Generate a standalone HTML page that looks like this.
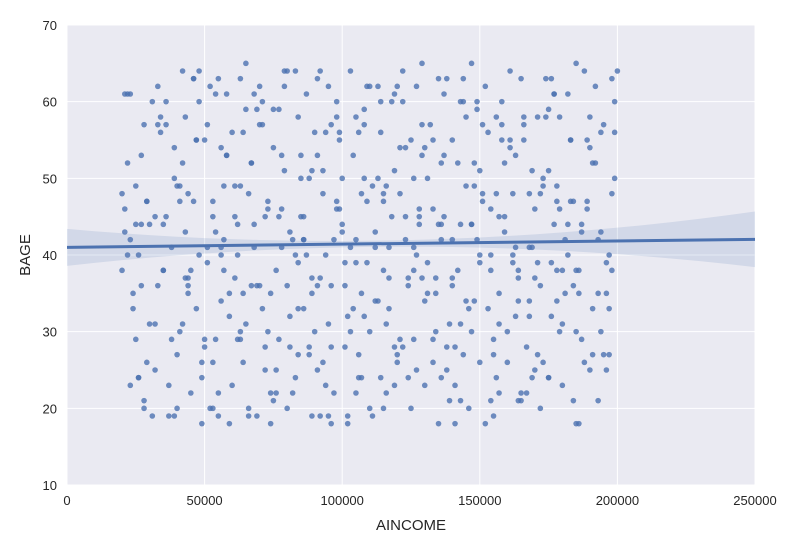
<!DOCTYPE html>
<html><head><meta charset="utf-8"><style>
body{margin:0;background:#fff;font-family:"Liberation Sans",sans-serif;}
</style></head><body>
<svg id="chart" width="800" height="550">
<rect x="67" y="25" width="688" height="460" fill="#EAEAF2"/>
<g id="grid"></g><g id="band"></g><g id="pts"></g><g id="reg"></g><g id="ticks"></g>
<text x="411" y="530" text-anchor="middle" font-size="15" fill="#262626">AINCOME</text>
<text transform="translate(30,255) rotate(-90)" text-anchor="middle" font-size="15" fill="#262626">BAGE</text>
</svg>
<script>
const xTicks=[0,50000,100000,150000,200000,250000];
const yTicks=[10,20,30,40,50,60,70];
const incomeK=[21,24,22,26,23,28,30,32,27,25,35,38,33,31,36,40,42,44,41,45,43,47,49,46,48,50,52,54,51,55,53,57,59,56,58,60,62,64,61,65,63,67,69,66,68,70,72,74,71,75,73,77,79,76,78,80,82,84,81,85,83,87,89,86,88,90,92,94,91,95,93,97,99,96,98,100,102,104,101,105,103,107,109,106,108,110,112,114,111,115,113,117,119,116,118,120,122,124,121,125,123,127,129,126,128,130,132,134,131,135,133,137,139,136,138,140,142,144,141,145,143,147,149,146,148,150,152,154,151,155,153,157,159,156,158,160,162,164,161,165,163,167,169,166,168,170,172,174,171,175,173,177,179,176,178,180,182,184,181,185,183,187,189,186,188,190,192,194,191,195,193,197,199,196,198,
22,25,29,34,37,39,43,46,50,53,56,59,62,66,69,73,76,80,83,86,90,93,96,99,103,106,110,113,116,119,123,126,129,133,136,140,143,146,149,153,156,160,163,166,169,173,176,180,183,186,189,193,196,199,
20,24,28,31,35,38,42,45,49,52,56,59,63,66,70,73,77,80,84,87,91,94,98,101,105,108,112,115,119,122,126,129,133,136,140,143,147,150,154,157,161,164,168,171,175,178,182,185,189,192,196,
21,27,33,39,44,48,54,58,64,68,74,78,84,88,94,97,104,108,114,118,124,128,134,138,144,148,154,158,164,168,174,178,184,188,194,198,
23,29,36,41,47,53,57,63,67,72,79,85,89,92,98,102,107,111,117,121,127,131,137,141,147,151,157,162,167,172,177,181,187,191,197,200,
26,32,40,44,51,55,61,65,71,75,81,86,91,95,100,105,109,115,120,125,130,135,139,145,150,155,159,165,170,175,179,185,190,195,199,
20,23,27,30,34,37,41,44,48,51,55,58,62,65,69,72,76,79,83,86,89,93,96,100,103,107,110,114,117,121,124,128,131,135,138,142,145,149,152,156,159,163,166,170,173,177,180,184,187,191,194,198,
22,26,29,33,36,40,43,47,50,54,57,61,64,68,71,75,78,82,85,89,92,96,99,102,106,109,113,116,120,123,127,130,134,137,141,144,148,151,155,158,162,165,169,172,176,179,183,186,190,193,197,
21,25,28,32,35,39,42,46,49,53,56,60,63,67,70,74,77,81,84,88,91,95,98,101,105,108,112,115,119,122,126,129,133,136,140,143,147,150,154,157,161,164,168,171,175,178,182,185,189,192,196,199];
const age=[46,35,52,24,42,57,44,31,53,29,38,41,62,19,45,27,64,36,49,22,58,33,18,47,60,55,20,43,39,63,26,49,18,34,61,23,44,56,37,65,30,52,19,48,41,62,25,35,57,21,46,29,64,38,53,20,42,58,32,50,24,61,37,45,27,56,19,40,63,31,48,22,55,36,60,44,18,53,28,42,64,35,47,24,59,30,41,56,19,38,62,33,51,22,45,27,60,36,48,20,54,40,65,29,44,23,57,35,50,18,46,61,31,42,25,55,38,63,28,49,21,44,59,33,52,26,62,40,47,19,56,35,43,24,60,30,48,37,64,22,53,28,41,57,34,46,20,63,39,51,26,44,58,32,49,23,61,36,42,18,55,29,47,38,64,25,52,43,33,57,21,40,60,35,48,
61,44,26,58,19,50,37,63,28,45,54,32,40,20,59,47,25,36,64,42,30,51,18,56,41,27,62,34,49,23,45,38,57,29,52,36,44,20,60,33,48,26,41,58,24,50,39,31,55,18,46,35,
39,56,48,33,21,60,44,29,52,38,26,62,41,35,49,19,57,30,45,64,27,40,53,23,47,36,58,32,43,20,61,28,50,37,55,24,42,31,65,39,46,22,54,34,48,27,59,38,44,30,55,
62,25,43,36,57,19,48,40,29,53,35,61,22,46,39,28,56,42,33,50,24,60,37,45,30,63,27,49,38,55,21,41,58,34,47,26,
56,38,23,47,60,30,55,20,42,63,36,28,51,45,19,37,58,32,24,49,41,29,62,35,53,18,44,57,31,39,22,48,61,35,43,27,
33,64,40,25,49,37,57,22,45,31,60,54,28,42,36,19,50,39,62,47,26,55,34,44,21,58,40,29,52,63,37,24,46,38,54,
27,50,38,61,44,31,56,23,47,35,64,41,19,53,29,59,36,45,22,62,40,33,51,26,57,43,30,48,20,60,37,54,24,46,39,63,28,52,34,42,18,58,45,32,55,25,49,61,38,21,44,
52,30,63,40,24,47,36,57,20,43,55,29,61,38,49,26,44,33,59,41,22,53,35,64,28,46,19,56,39,50,31,62,42,25,54,37,45,23,60,34,48,27,57,40,21,51,36,63,30,47,
35,58,42,27,61,49,20,45,38,54,31,63,24,47,40,56,29,52,36,18,59,43,33,50,25,62,46,39,22,57,34,48,28,64,41,53,26,44,37,60,30,51,21,45,55,38,32,58,24,47,40,65];
const X=v=>67+v/250000*688, Y=v=>485-(v-10)/60*460;
const NS="http://www.w3.org/2000/svg";
function mk(t,a,p){const e=document.createElementNS(NS,t);for(const k in a)e.setAttribute(k,a[k]);p.appendChild(e);return e;}
const grid=document.getElementById('grid'),ticks=document.getElementById('ticks');
xTicks.forEach(t=>{const l=mk('line',{x1:X(t),x2:X(t),y1:25,y2:485,stroke:'#fff','stroke-width':1},grid);

const tx=mk('text',{x:X(t),y:505,'text-anchor':'middle','font-size':13,fill:'#262626'},ticks);tx.textContent=t;
});
yTicks.forEach(t=>{const l=mk('line',{x1:67,x2:755,y1:Y(t),y2:Y(t),stroke:'#fff','stroke-width':1},grid);

const tx=mk('text',{x:57,y:Y(t)+5,'text-anchor':'end','font-size':13,fill:'#262626'},ticks);tx.textContent=t;
});
const pts=document.getElementById('pts');
const n=Math.min(incomeK.length,age.length);
let sx=0,sy=0,sxx=0,sxy=0;
for(let i=0;i<n;i++){const xv=incomeK[i]*1000,yv=age[i];sx+=xv;sy+=yv;sxx+=xv*xv;sxy+=xv*yv;
const c=mk('circle',{cx:X(xv),cy:Y(yv),r:2.8,fill:'#4C72B0','fill-opacity':0.8},pts);
}
const b=(n*sxy-sx*sy)/(n*sxx-sx*sx),a=(sy-b*sx)/n,mx=sx/n;
const x0=0,x1=250000;
let up=[],dn=[];
for(let xv=x0;xv<=x1;xv+=10000){const yv=a+b*xv,w=0.4+Math.pow((xv-mx)/110000,2)*2.0;up.push(X(xv)+','+Y(yv+w));dn.unshift(X(xv)+','+Y(yv-w));}
const band=mk('polygon',{points:up.concat(dn).join(' '),fill:'#4C72B0','fill-opacity':0.15},document.getElementById('band'));

const rl=mk('line',{x1:X(x0),y1:Y(a+b*x0),x2:X(x1),y2:Y(a+b*x1),stroke:'#4C72B0','stroke-width':3},document.getElementById('reg'));

</script>
</body></html>
